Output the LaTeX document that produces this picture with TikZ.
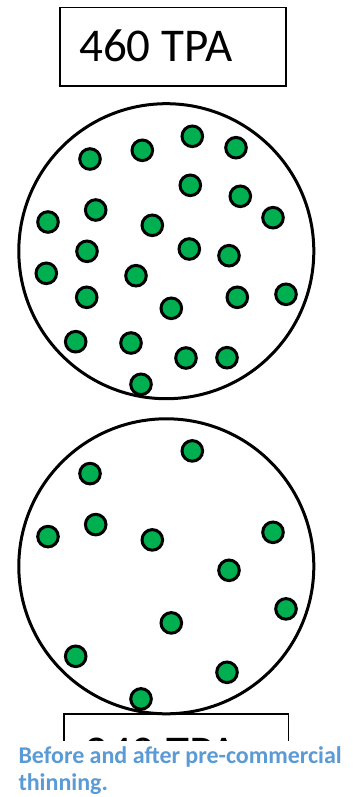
\documentclass[tikz,border=0pt]{standalone}
\usepackage{fontspec}
\setmainfont{Carlito}
\definecolor{treegreen}{RGB}{0,176,80}
\definecolor{capblue}{RGB}{91,155,213}
\begin{document}
\begin{tikzpicture}[x=1pt,y=-1pt,
  tree/.style={circle,draw=black,fill=treegreen,line width=3pt,minimum size=20.6pt,inner sep=0pt},
  plotcircle/.style={circle,draw=black,line width=3pt,minimum size=295pt,inner sep=0pt},
  tpabox/.style={draw=black,line width=1.6pt,anchor=north west,inner sep=0pt},
  tpatext/.style={anchor=base west,inner sep=0pt,font=\fontsize{47}{56}\selectfont},
  caption/.style={anchor=base west,inner sep=0pt,align=left,text=capblue,
    font=\fontsize{24}{27.5}\selectfont\bfseries}]
\useasboundingbox (0,0) rectangle (353,797);
% top box
\node[tpabox,minimum width=225.7pt,minimum height=78.3pt] (boxA) at (59.3,6.7) {};
\node[tpatext] (textA) at (79,62) {460 TPA};
% bottom box (partly hidden by caption)
\node[tpabox,minimum width=224.4pt,minimum height=70pt] (boxB) at (63.3,713) {};
\begin{scope}
\clip (0,700) rectangle (353,740.7);
\node[tpatext] (textB) at (84,768.5) {240 TPA};
\end{scope}
% plots
\node[plotcircle] (plotA) at (166.3,251.2) {};
\node[plotcircle] (plotB) at (166.3,566.3) {};
% trees before thinning
\foreach \x/\y [count=\i] in {90/159,142.3/150.3,192.3/136.3,236/147.7,190.3/185.3,240.3/196.3,
  273/217.7,95.7/210,48/222,152.3/225.3,87/251.3,189.3/249,229/255.7,46.3/273.3,136/275.7,
  86.7/297.3,171.3/308.3,237.3/297.3,286/294.3,75.7/341.7,131/343,186/358,227/357.7,141/384.3}
  \node[tree] (t\i) at (\x,\y) {};
% trees after thinning
\foreach \x/\y [count=\i] in {192.3/136.3,90/159,95.7/210,48/222,273/217.7,152.3/225.3,
  229/255.7,286/294.3,171.3/308.3,75.7/341.7,227/357.7,141/384.3}
  \node[tree] (b\i) at (\x,\y+314.6) {};
% caption area
\fill[white] (0,740.7) rectangle (353,797);
\node[caption] (cap) at (18.3,790.5) {Before and after pre-commercial\\thinning.};
\end{tikzpicture}
\end{document}
